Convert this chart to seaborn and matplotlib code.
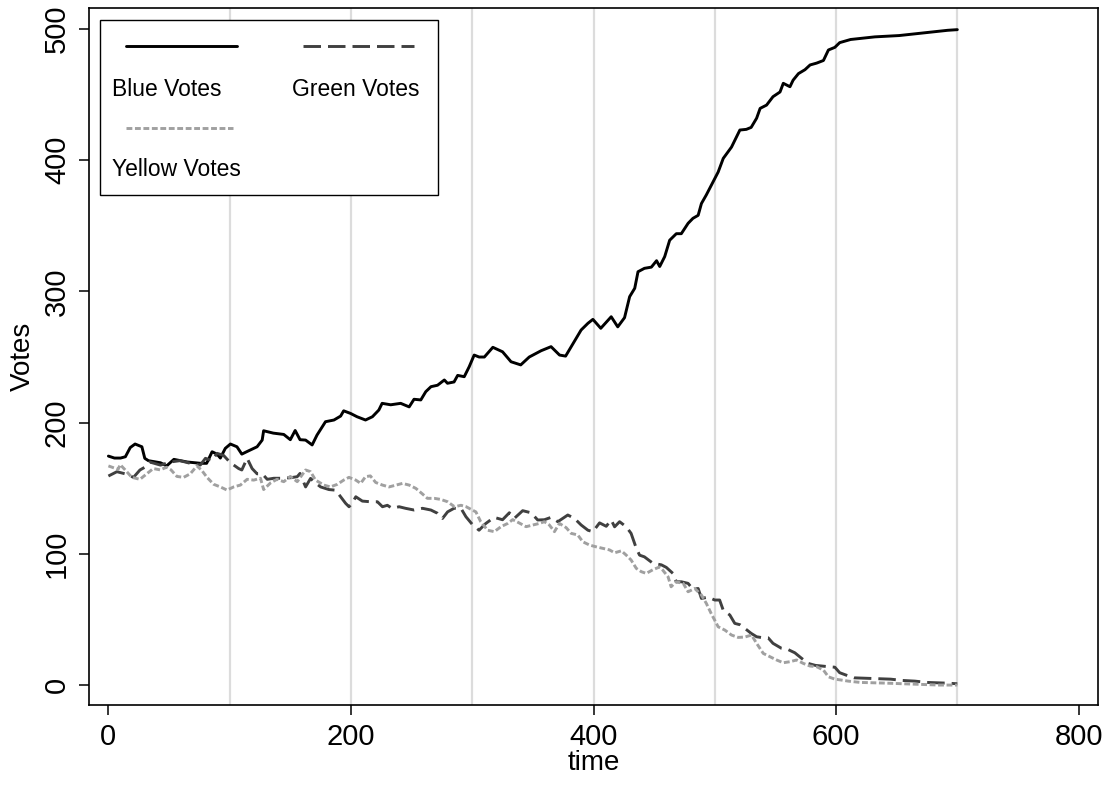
import numpy as np
import pandas as pd
import matplotlib
matplotlib.use("Agg")
import matplotlib.pyplot as plt
from matplotlib.patches import Rectangle
from matplotlib.lines import Line2D
import seaborn as sns

# ---------------- data ----------------
blue_t = [0, 5, 10, 14, 18, 22, 27.6, 30, 33, 43, 48, 54, 65, 76, 81, 85.5, 89.6, 92.3, 96.4,
          100.6, 106, 110, 114.4, 122.6, 126.8, 128, 136, 144.6, 150, 154, 158, 162.6, 168, 172,
          179, 186, 191.5, 194, 199.7, 205, 212, 217.7, 223, 225.7, 232.8, 241, 248, 252, 257.6,
          261.7, 266, 271.4, 277, 279.6, 285, 288, 293.4, 297.5, 301.6, 305.7, 310, 317, 325, 332,
          340, 347, 356.8, 365, 372, 377, 381.6, 389.8, 395.4, 399.5, 406, 414.6, 420, 425.6,
          429.8, 434, 436.7, 442, 447.7, 452, 454.6, 458.7, 462.8, 468.3, 472.4, 478, 482, 486.3,
          489, 493, 498.7, 502.8, 507, 513.8, 518, 520.7, 526, 530, 534.5, 537.4, 542.7, 548,
          553.8, 556.5, 562, 564.6, 569, 574.4, 578.6, 584, 589.6, 593.7, 599, 603, 612, 622,
          632, 642, 652, 662, 672, 682, 692, 700]
blue_v = [174.5, 173, 173, 174, 181, 183.7, 181.6, 172.8, 171, 169.4, 167, 172, 170, 169, 169,
          177.8, 176, 173, 180.4, 183.7, 181.6, 176, 178, 181.6, 186.7, 193.8, 192, 191, 187, 194,
          187, 186.7, 183, 190.5, 200.7, 202, 205, 209, 207, 204.5, 202, 204.5, 209.6, 214.7,
          213.6, 214.7, 212, 217.8, 217.3, 223.6, 227.4, 228.5, 232.5, 230, 231, 236, 235, 242.6,
          251.5, 250, 250, 257.4, 254, 246.4, 244, 250, 254.8, 257.9, 251.5, 250.7, 257.9, 270.6,
          275.7, 278.7, 271.9, 280.7, 273, 280, 296, 302.4, 315, 317.6, 318.5, 323.4, 319, 326.5,
          339, 344, 344, 351.9, 355.7, 358, 367, 373.5, 383.6, 391, 401.4, 410, 418, 423, 423.5,
          425, 432, 439.5, 442, 448.4, 452, 458.6, 456, 461, 466, 469, 472.6, 474, 476, 484, 486,
          489.6, 492, 493, 494, 494.5, 495, 496, 497, 498, 499, 499.5]

green_t = [0, 7, 13.8, 20.7, 26, 30, 34, 43, 51, 59, 67.5, 75.8, 80, 85.5, 89.6, 95, 99, 103.3,
           107.4, 110, 114.4, 118.5, 122.6, 126.8, 131, 136.4, 143.3, 150, 155.7, 158, 162.6,
           166.7, 169.4, 175, 181.8, 187.4, 191.5, 195.6, 198.4, 201, 204, 209.4, 216, 221.8,
           226, 230, 234, 239.7, 245, 252, 259, 265.9, 271.4, 275.5, 279.7, 285, 290.7, 294.8,
           300, 305.6, 311, 318, 325, 330.6, 334.7, 341.6, 348.5, 354, 359.5, 365, 370.6, 378.8,
           384.3, 389.8, 395.4, 399.5, 405, 410.5, 414.6, 417.4, 421.5, 427, 431, 435.3, 438,
           442, 449, 456, 460, 465.6, 468.3, 472.5, 478, 482, 486.3, 489, 494.5, 500, 504, 507,
           512.4, 516.5, 520.7, 524.8, 530, 534.5, 540, 544, 548, 555, 560.6, 566, 571.7, 577,
           582.9, 588.2, 593.7, 599, 603, 610, 615, 630, 645, 655, 665, 675, 690, 700]
green_v = [159.3, 162.6, 161, 158.3, 163.9, 166, 170, 167.6, 170, 171, 169, 167.7, 172.8, 171,
           176.6, 175, 171, 167.7, 165, 163.9, 172.8, 165, 161, 161, 156.8, 157.6, 157.6, 158,
           158.8, 161.3, 151, 157.5, 155, 151, 149, 148.5, 143.5, 138.5, 135.9, 138.5, 143.5,
           140.2, 139.7, 139.7, 135.9, 137, 134.7, 135.9, 134.7, 133.4, 134.7, 133.4, 130.9, 127,
           132, 134.7, 134.7, 128.3, 122.5, 118, 123, 127.8, 126, 131.3, 127, 132.9, 131.3, 125.8,
           126, 127.8, 124.5, 129.6, 127, 122, 118, 116.9, 123.6, 121, 125.8, 120.6, 124.5, 120.6,
           115.6, 104.2, 99, 97.7, 92.8, 91.6, 89.7, 85, 78.7, 78.7, 77.5, 73, 73.6, 66, 67, 64.8,
           64.8, 57, 53.4, 47, 46, 43.2, 39.4, 36.8, 36, 36, 31.8, 28, 27, 24.6, 20.3, 16.5, 15,
           14.5, 14, 13.6, 9.4, 7, 5.5, 5, 4.5, 3.5, 3, 2, 1.5, 1]

yellow_t = [0, 8, 9.7, 13.8, 19.3, 26, 31.7, 37, 42.7, 48, 51.6, 56.5, 62, 67.5, 73, 77, 81.3,
            86.8, 92.3, 97.8, 103.3, 108.8, 114.4, 119.8, 125.4, 128, 133.6, 139, 144.6, 150,
            155.7, 162.6, 166.7, 170.8, 177.7, 183, 188.8, 194, 198.4, 204, 208, 212, 216, 220.4,
            226, 231.4, 237, 242.5, 248, 253.5, 259, 263, 268.6, 274, 279.7, 285.4, 290.7, 294.8,
            300, 303, 307, 312.7, 318.2, 323.7, 329.3, 333.4, 338.8, 344.4, 350, 355.4, 359.5,
            363.6, 367.8, 371.9, 377.4, 381.6, 387, 391.2, 396.7, 402, 407.8, 413.2, 417.4, 423,
            427, 431, 435.3, 439.4, 443.5, 449, 454.5, 457, 461.5, 464, 468, 474, 478, 483.5, 489,
            493, 497, 502.8, 508.3, 513.8, 519.3, 524.8, 530.3, 534.5, 540, 545.5, 551, 556.5,
            562, 567.5, 573, 578.5, 584, 589.6, 593.7, 599, 603, 610, 620, 640, 655, 670, 685, 700]
yellow_v = [167, 164.4, 168, 164, 158.3, 156.8, 161, 165, 164, 166, 164, 159, 158.3, 161, 167,
            163.6, 158.3, 153, 151, 148.6, 151, 152.4, 156.8, 156.2, 157.6, 149, 154, 156.8, 155,
            159, 155, 163.9, 162.6, 156.2, 152.4, 151, 153, 156.2, 158.3, 156.2, 153.7, 158.8,
            159.4, 154.4, 152.4, 151, 152.4, 153.7, 152.4, 149.9, 145.6, 142.3, 142.3, 141.5,
            139.7, 135.9, 137, 136, 133.4, 132, 124.5, 118, 116.9, 120.7, 123.2, 126.1, 123.5,
            120.7, 122, 123.2, 124.5, 122, 116.9, 123.2, 120, 115.6, 114.4, 109.2, 106.7, 105.4,
            104.2, 103, 100.8, 102.3, 99, 95.3, 88.9, 86.4, 85.1, 87.9, 90, 87.7, 82.5, 74.9,
            78.7, 77.5, 71.1, 73.6, 68.6, 62.3, 54.6, 44.4, 41.9, 38.1, 36.3, 36.6, 38.1, 31.8,
            24.1, 21.6, 19.1, 17, 17.8, 19.1, 16.5, 14.5, 14, 11.4, 6.3, 4.5, 4, 3, 2, 1.5, 1,
            0.5, 0, 0]

series_labels = ["Blue Votes", "Green Votes", "Yellow Votes"]
x_ticks = [0, 200, 400, 600, 800]
y_ticks = [0, 100, 200, 300, 400, 500]
x_lines = [100, 200, 300, 400, 500, 600, 700]

# ---------------- styling ----------------
sns.set_theme(style="white")
plt.rcParams["font.family"] = ["Liberation Sans", "DejaVu Sans"]
plt.rcParams["text.color"] = "black"
plt.rcParams["axes.labelcolor"] = "black"
plt.rcParams["xtick.color"] = "black"
plt.rcParams["ytick.color"] = "black"

fig = plt.figure(figsize=(11.12, 7.85), dpi=100)
ax = fig.add_axes([89 / 1112, 80 / 785, 1009 / 1112, 697 / 785])

for xv in x_lines:
    ax.axvline(xv, color="#dcdcdc", lw=1.6, zorder=0)

lw = 2.1
styles = [
    dict(color="black", linestyle="-"),
    dict(color="#404040", linestyle=(0, (6.0, 2.4))),
    dict(color="#a0a0a0", linestyle=(0, (2.0, 0.9))),
]

for (tt, vv), lab, st in zip([(blue_t, blue_v), (green_t, green_v), (yellow_t, yellow_v)],
                             series_labels, styles):
    df = pd.DataFrame({"time": tt, "Votes": vv})
    sns.lineplot(data=df, x="time", y="Votes", ax=ax, estimator=None, sort=False,
                 linewidth=lw, color=st["color"], linestyle=st["linestyle"], zorder=3)

ax.set_xlim(-16, 816)
ax.set_ylim(-15.2, 516)
ax.set_xticks(x_ticks)
ax.set_yticks(y_ticks)
ax.tick_params(axis="both", direction="out", length=7, width=1.1, colors="black",
               labelsize=21, pad=6, bottom=True, left=True)
ax.tick_params(axis="y", labelrotation=90)
for lbl in ax.get_yticklabels():
    lbl.set_va("center")
for sp in ax.spines.values():
    sp.set_visible(True)
    sp.set_color("black")
    sp.set_linewidth(1.2)
ax.grid(False)
ax.set_xlabel("time", fontsize=20, labelpad=-1, color="black")
ax.set_ylabel("Votes", fontsize=20, labelpad=5, color="black")

# ---------------- legend (Stata style: keys above labels) ----------------
W, H = 1009.0, 697.0
def ax_xy(px, py):
    return ((px - 89) / W, (705 - py) / H)

x0, y0 = ax_xy(99.5, 195)
x1, y1 = ax_xy(437.5, 20)
ax.add_patch(Rectangle((x0, y0), x1 - x0, y1 - y0, transform=ax.transAxes,
                       facecolor="white", edgecolor="black", lw=1.0, zorder=5))
keys = [((126, 237), 46, styles[0]), ((303, 414), 46, styles[1]), ((126, 233), 128, styles[2])]
for (xa, xb), yk, st in keys:
    (ax1, ay), (ax2, _) = ax_xy(xa, yk), ax_xy(xb, yk)
    ax.add_line(Line2D([ax1, ax2], [ay, ay], transform=ax.transAxes, color=st["color"],
                       linestyle=st["linestyle"], lw=lw, zorder=6))
texts = [(112, 89, series_labels[0]), (292, 89, series_labels[1]), (112, 170, series_labels[2])]
for px, py, s in texts:
    tx, ty = ax_xy(px, py)
    ax.text(tx, ty, s, transform=ax.transAxes, fontsize=16.5, ha="left", va="center",
            color="black", zorder=6)

fig.savefig("out.png", dpi=100)
